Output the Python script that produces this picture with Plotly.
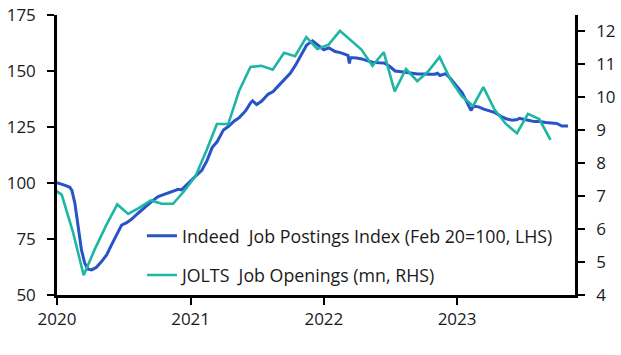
import pandas as pd
import plotly.graph_objects as go

# Indeed Job Postings Index (Feb 20 = 100)
indeed_dates = [
    "2020-01-01", "2020-01-14", "2020-01-27", "2020-02-05", "2020-02-11", "2020-02-19",
    "2020-02-28", "2020-03-08", "2020-03-17", "2020-03-26", "2020-04-05", "2020-04-18",
    "2020-05-02", "2020-05-16", "2020-05-29", "2020-06-12", "2020-06-26", "2020-07-10",
    "2020-07-23", "2020-08-10", "2020-08-29", "2020-09-16", "2020-10-04", "2020-10-22",
    "2020-11-10", "2020-11-28", "2020-12-07", "2020-12-21",
    "2021-01-01", "2021-01-15", "2021-02-01", "2021-02-15", "2021-03-01", "2021-03-15",
    "2021-04-01", "2021-04-15", "2021-05-01", "2021-05-15", "2021-06-01", "2021-06-15",
    "2021-06-20", "2021-07-01", "2021-07-15", "2021-08-01", "2021-08-15", "2021-09-01",
    "2021-09-15", "2021-10-01", "2021-10-15", "2021-11-01", "2021-11-15", "2021-12-01",
    "2021-12-15",
    "2022-01-01", "2022-01-15", "2022-02-01", "2022-02-15", "2022-03-01", "2022-03-08",
    "2022-03-12", "2022-03-15", "2022-04-01", "2022-04-15", "2022-05-01", "2022-05-15",
    "2022-06-01", "2022-06-15", "2022-07-01", "2022-07-15", "2022-08-01", "2022-08-15",
    "2022-09-01", "2022-09-15", "2022-10-01", "2022-10-15", "2022-11-01", "2022-11-08",
    "2022-11-15", "2022-12-01", "2022-12-15",
    "2023-01-01", "2023-01-15", "2023-02-01", "2023-02-08", "2023-02-15", "2023-03-01",
    "2023-03-15", "2023-04-01", "2023-04-15", "2023-05-01", "2023-05-15", "2023-06-01",
    "2023-06-15", "2023-06-20", "2023-07-01", "2023-07-15", "2023-08-01", "2023-08-15",
    "2023-09-01", "2023-09-15", "2023-10-01", "2023-10-15", "2023-11-01",
]
indeed_values = [
    100.1, 99.5, 98.7, 98.1, 96.6, 90.9,
    80.5, 70.1, 64.2, 61.5, 61.2, 62.4,
    64.9, 67.9, 72.3, 76.8, 81.2, 82.3,
    83.8, 86.5, 89.4, 91.7, 93.9, 95.1,
    96.1, 97.2, 96.9, 99.1,
    100.8, 103.0, 105.8, 110.0, 115.8, 118.5,
    123.7, 125.3, 127.7, 129.3, 132.3, 136.0,
    136.7, 135.0, 136.6, 139.6, 140.8, 143.8,
    146.3, 149.0, 152.5, 157.8, 161.6, 163.5,
    161.5,
    159.5, 160.3, 158.7, 158.2, 157.3, 157.0,
    153.4, 156.0, 155.8, 155.4, 154.5, 153.9,
    153.7, 153.6, 152.0, 150.0, 149.7, 149.4,
    149.0, 148.7, 148.7, 148.5, 148.6, 149.0,
    148.0, 148.8, 146.4,
    143.2, 140.3, 134.8, 132.4, 134.3, 134.0,
    133.0, 132.3, 131.4, 129.8, 128.7, 128.0,
    128.3, 128.9, 128.4, 128.0, 127.4, 127.4,
    127.0, 126.9, 126.6, 125.4, 125.5,
]

# JOLTS job openings (mn), monthly Jan 2020 - Oct 2023
jolts_months = pd.date_range("2020-01-01", "2023-10-01", freq="MS")
jolts_values = [
    7.3, 7.04, 5.9, 4.6, 5.4, 6.1, 6.75, 6.46, 6.65, 6.87, 6.77, 6.77,
    7.15, 7.6, 8.4, 9.19, 9.19, 10.2, 10.92, 10.96, 10.84, 11.35, 11.25, 11.83,
    11.47, 11.6, 12.02, 11.75, 11.45, 10.96, 11.37, 10.18, 10.86, 10.49, 10.79, 11.23,
    10.54, 10.03, 9.74, 10.31, 9.62, 9.2, 8.91, 9.5, 9.34, 8.71,
]
# monthly points are drawn mid-way through the preceding month in the original chart
jolts_plot_dates = jolts_months - pd.DateOffset(months=1) + pd.Timedelta(days=13)

blue = "#2853c9"
teal = "#1db5a3"
tick_font = dict(family="Open Sans", size=17, color="#1a1a1a")
legend_font = dict(family="Open Sans", size=17.8, color="#1a1a1a")

fig = go.Figure()
fig.add_trace(go.Scatter(
    x=pd.to_datetime(indeed_dates), y=indeed_values, mode="lines",
    name="Indeed\u00a0 Job Postings Index (Feb 20=100, LHS)",
    line=dict(color=blue, width=3), legendgroup="a",
))
fig.add_trace(go.Scatter(
    x=jolts_plot_dates, y=jolts_values, mode="lines",
    name="JOLTS\u00a0 Job Openings (mn, RHS)", yaxis="y2",
    line=dict(color=teal, width=2.6), legendgroup="b",
))

axis_common = dict(
    showline=True, linecolor="black", linewidth=2.5, ticks="outside",
    ticklen=7, tickwidth=2, tickcolor="black", showgrid=False, zeroline=False,
    tickfont=tick_font, automargin=False, ticklabeloverflow="allow",
)
fig.update_layout(
    width=621, height=355,
    margin=dict(l=57, r=46, t=15, b=60),
    paper_bgcolor="white", plot_bgcolor="white",
    font=tick_font,
    xaxis=dict(range=["2020-01-01", "2023-11-20"], dtick="M12", tick0="2020-01-01",
               tickformat="%Y", ticklabelstandoff=0, **axis_common),
    yaxis=dict(range=[50, 175], dtick=25, ticklabelstandoff=8, **axis_common),
    yaxis2=dict(range=[4, 12.5], dtick=1, tick0=4, overlaying="y", side="right",
                ticklabelstandoff=8, **axis_common),
    legend=dict(x=0.164, y=0.14, xanchor="left", yanchor="middle",
                bgcolor="rgba(0,0,0,0)", font=legend_font, traceorder="grouped",
                tracegroupgap=13),
    showlegend=True,
)

# remove the default page margin so the figure sits at the window's top-left corner
fig.write_html("out.html", config={"displayModeBar": False},
               post_script="document.body.style.margin='0';")
